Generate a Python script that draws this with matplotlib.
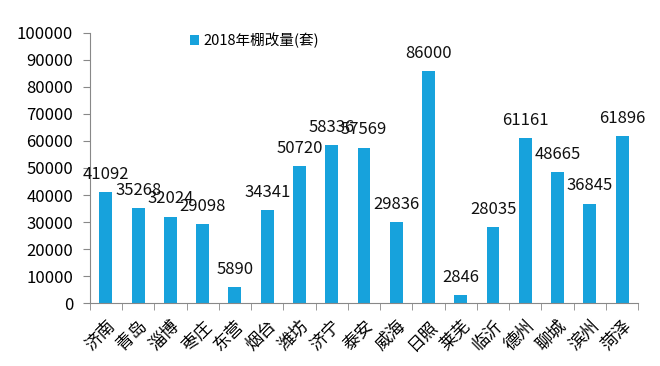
#!/usr/bin/env python3
'''2018 shantytown renovation bar chart'''

import matplotlib
matplotlib.use('Agg')
import matplotlib.pyplot as plt
from matplotlib.ticker import FixedLocator

plt.rcParams['font.family'] = ['Noto Sans CJK SC', 'DejaVu Sans']

cities = ['济南', '青岛', '淄博', '枣庄', '东营', '烟台', '潍坊', '济宁', '泰安',
          '威海', '日照', '莱芜', '临沂', '德州', '聊城', '滨州', '菏泽']
units = [41092, 35268, 32024, 29098, 5890, 34341, 50720, 58336, 57569,
         29836, 86000, 2846, 28035, 61161, 48665, 36845, 61896]
series_name = '2018年棚改量(套)'

fig = plt.figure(figsize=(6.6, 3.66), dpi=100)
ax = fig.add_axes([0.136, 0.172, 0.831, 0.738])

x = range(len(cities))
ax.bar(x, units, width=0.4, color='#17a2dc', label=series_name)

# value labels sit ~18 px above each bar
for xi, v in zip(x, units):
    ax.text(xi, v + 6500, str(v), ha='center', va='center', fontsize=12, color='#111111')

ax.set_xlim(-0.5, len(cities) - 0.5)
ax.set_ylim(0, 100000)
ax.set_yticks(range(0, 100001, 10000))
ax.tick_params(axis='y', labelsize=12, length=5, color='#888888', pad=7)

ax.set_xticks(list(x))
ax.set_xticklabels(cities, rotation=45, ha='right', rotation_mode='anchor', fontsize=12.5)
ax.tick_params(axis='x', length=0, pad=10)
ax.xaxis.set_minor_locator(FixedLocator([i - 0.5 for i in range(len(cities) + 1)]))
ax.tick_params(axis='x', which='minor', length=5, color='#888888')

for side in ['top', 'right']:
    ax.spines[side].set_visible(False)
for side in ['left', 'bottom']:
    ax.spines[side].set_color('#888888')

ax.legend(loc='upper center', bbox_to_anchor=(0.30, 1.05), frameon=False,
          fontsize=10.5, handlelength=0.6, handleheight=0.6, handletextpad=0.3)

fig.savefig('out.png', dpi=100)
